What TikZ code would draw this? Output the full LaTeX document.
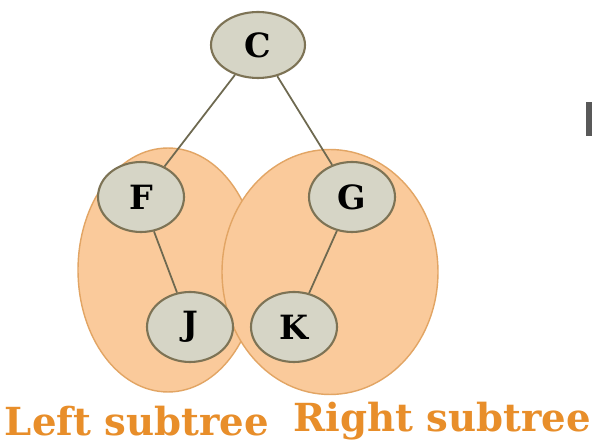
\documentclass[tikz,border=0pt]{standalone}
\usepackage{fontspec}
\setmainfont{DejaVu Serif}
\usetikzlibrary{shapes.geometric}
\definecolor{peach}{RGB}{250,202,155}
\definecolor{peachline}{RGB}{226,165,100}
\definecolor{nodefill}{RGB}{214,213,198}
\definecolor{nodeline}{RGB}{125,115,85}
\definecolor{edgecol}{RGB}{110,105,80}
\definecolor{labelcol}{RGB}{232,142,42}
\tikzset{
  vertex/.style={ellipse, draw=nodeline, line width=1.2pt, fill=nodefill,
    minimum width=1.72cm, minimum height=1.4cm, inner sep=0pt,
    font=\fontsize{19}{19}\selectfont\bfseries},
  subtree/.style={ellipse, draw=peachline, line width=0.8pt, fill=peach, inner sep=0pt},
  edge/.style={draw=edgecol, line width=1pt},
  sublabel/.style={text=labelcol, inner sep=0pt, font=\fontsize{22}{22}\selectfont\bfseries}
}
\begin{document}
\begin{tikzpicture}[x=0.02cm, y=-0.02cm]
        \useasboundingbox[fill=white] (0,0) rectangle (592,445);
        \node[subtree, minimum width=3.6cm, minimum height=4.88cm] (lt) at (168,270) {};
        \node[subtree, minimum width=4.32cm, minimum height=4.9cm] (rt) at (330,272) {};
        \node[vertex, minimum width=1.88cm, minimum height=1.32cm] (c) at (258,45) {C};
        \node[vertex] (f) at (141,197) {F};
        \node[vertex] (g) at (352,197) {G};
        \node[vertex] (j) at (190,327) {J};
        \node[vertex] (k) at (294,327) {K};
        \draw[edge] (c) -- (f);
        \draw[edge] (c) -- (g);
        \draw[edge] (f) -- (j);
        \draw[edge] (g) -- (k);
        \node[sublabel] (ll) at (137,421) {Left subtree};
        \node[sublabel] (rl) at (442,421) {Right subtree};
        \fill[gray!70!black] (586,102) rectangle (592,136);
    \end{tikzpicture}
\end{document}
